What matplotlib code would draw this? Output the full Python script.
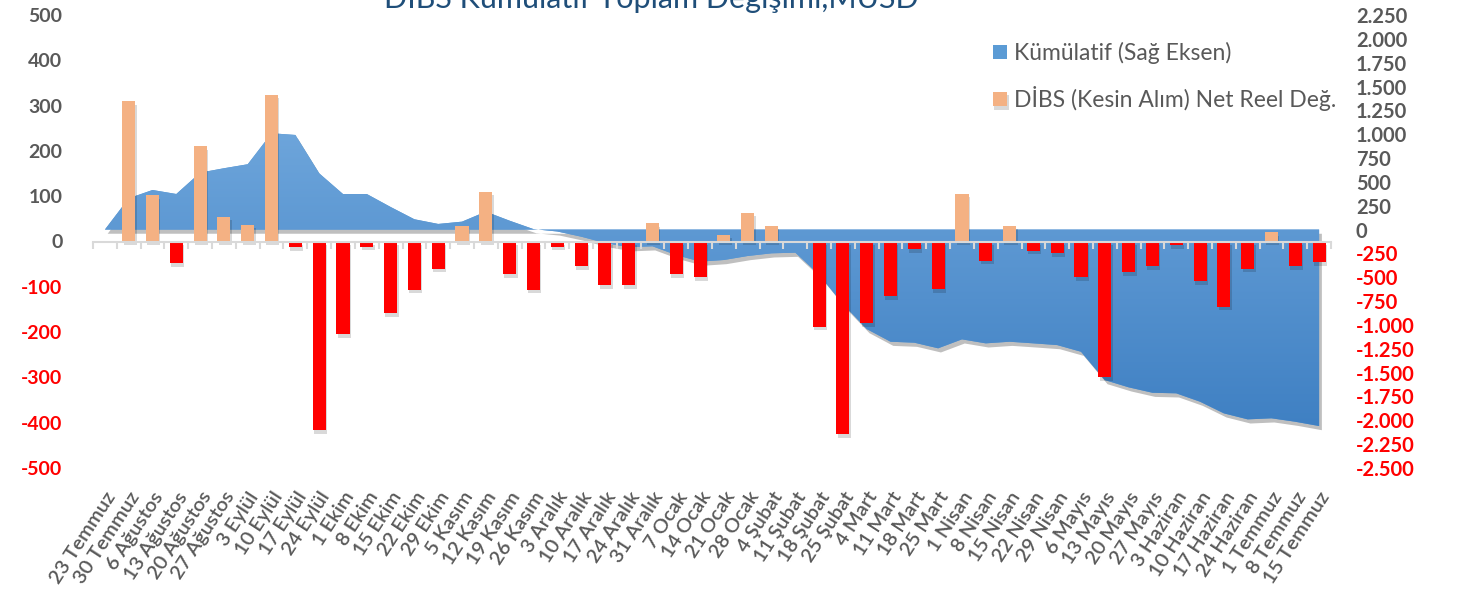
import matplotlib.pyplot as plt
import matplotlib.patheffects as pe
from matplotlib.colors import LinearSegmentedColormap
import numpy as np

plt.rcParams['font.family'] = ['Lato', 'DejaVu Sans']

weeks = ['23 Temmuz', '30 Temmuz', '6 Ağustos', '13 Ağustos', '20 Ağustos', '27 Ağustos',
         '3 Eylül', '10 Eylül', '17 Eylül', '24 Eylül', '1 Ekim', '8 Ekim', '15 Ekim',
         '22 Ekim', '29 Ekim', '5 Kasım', '12 Kasım', '19 Kasım', '26 Kasım', '3 Aralık',
         '10 Aralık', '17 Aralık', '24 Aralık', '31 Aralık', '7 Ocak', '14 Ocak', '21 Ocak',
         '28 Ocak', '4 Şubat', '11 Şubat', '18 Şubat', '25 Şubat', '4 Mart', '11 Mart',
         '18 Mart', '25 Mart', '1 Nisan', '8 Nisan', '15 Nisan', '22 Nisan', '29 Nisan',
         '6 Mayıs', '13 Mayıs', '20 Mayıs', '27 Mayıs', '3 Haziran', '10 Haziran',
         '17 Haziran', '24 Haziran', '1 Temmuz', '8 Temmuz', '15 Temmuz']

# DİBS (Kesin Alım) Net Reel Değ. (left axis, MUSD)
net_real = [0, 310, 102, -48, 210, 55, 37, 324, -13, -417, -205, -12, -158, -106, -60,
            34, 110, -72, -106, -12, -55, -97, -97, 40, -72, -79, 15, 63, 35, 0,
            -188, -426, -180, -121, -17, -105, 105, -42, 35, -21, -26, -79, -300, -68,
            -55, -8, -88, -144, -60, 20, -55, -46]

# Kümülatif (right axis, MUSD)
cumulative = [0, 328, 415, 373, 597, 643, 685, 1010, 992, 590, 373, 373, 237, 108, 59,
              83, 188, 93, 5, -20, -74, -140, -185, -175, -267, -336, -319, -277, -249, -242,
              -473, -781, -1043, -1176, -1186, -1245, -1151, -1193, -1176, -1193, -1211, -1281,
              -1578, -1654, -1711, -1717, -1805, -1927, -1990, -1979, -2015, -2060]

left_ticks = np.arange(-500, 501, 100)
right_ticks = np.arange(-2500, 2251, 250)

GREY = '#595959'
RED = '#FF0000'
ORANGE = '#F4B183'
BLUE = '#5B9BD5'

fig = plt.figure(figsize=(14.58, 5.93), dpi=100)
ax1 = fig.add_axes([93 / 1458, 1 - 468 / 593, (1331 - 93) / 1458, (468 - 15) / 593])
ax2 = ax1.twinx()
ax1.set_zorder(ax2.get_zorder() + 1)
ax1.patch.set_visible(False)

x = np.arange(len(weeks))
cum = np.array(cumulative)
vals = np.array(net_real)

# cumulative area with a vertical gradient
area = ax2.fill_between(x, cum, 0, color=BLUE, lw=0, label='Kümülatif (Sağ Eksen)')
area.set_path_effects([pe.SimplePatchShadow(offset=(2, -3), shadow_rgbFace='k', alpha=0.25),
                       pe.Normal()])
cmap = LinearSegmentedColormap.from_list('blues', ['#3F80C3', '#6DA5DB'])
grad = np.linspace(0, 1, 256).reshape(-1, 1)
im = ax2.imshow(grad, extent=[x[0], x[-1], cum.min(), cum.max()], origin='lower',
                aspect='auto', cmap=cmap, zorder=area.get_zorder() + 0.1)
im.set_clip_path(area.get_paths()[0], transform=ax2.transData)

# bars
pos = vals >= 0
shadow = [pe.SimplePatchShadow(offset=(1, -2.5), shadow_rgbFace='k', alpha=0.15), pe.Normal()]
bars_pos = ax1.bar(x[pos], vals[pos], width=0.55, color=ORANGE,
                   label='DİBS (Kesin Alım) Net Reel Değ.')
bars_neg = ax1.bar(x[~pos], vals[~pos], width=0.55, color=RED)
for b in list(bars_pos) + list(bars_neg):
    b.set_path_effects(shadow)

ax1.set_xlim(-0.5, len(weeks) - 0.5)
ax1.set_ylim(-500, 500)
ax2.set_ylim(-2500, 2250)

# category axis at zero
for s in ['top', 'left', 'right']:
    ax1.spines[s].set_visible(False)
    ax2.spines[s].set_visible(False)
ax2.spines['bottom'].set_visible(False)
ax1.spines['bottom'].set_position(('data', 0))
ax1.spines['bottom'].set_color('#D9D9D9')
ax1.spines['bottom'].set_linewidth(1.5)
ax1.set_xticks(x)
ax1.set_xticks(np.arange(len(weeks) + 1) - 0.5, minor=True)
ax1.tick_params(axis='x', which='major', length=0, labelbottom=False)
ax1.tick_params(axis='x', which='minor', length=5, width=1.5, color='#D9D9D9', direction='out')

sec = ax1.secondary_xaxis(0)
sec.set_xticks(x, weeks)
sec.spines['bottom'].set_visible(False)
sec.tick_params(length=0, pad=15)
for t in sec.get_xticklabels():
    t.set_rotation(57)
    t.set_ha('right')
    t.set_va('top')
    t.set_rotation_mode('anchor')
    t.set_fontsize(14.5)
    t.set_color(GREY)
    t.set_fontweight('semibold')

# y axes
ax1.set_yticks(left_ticks, [str(v) for v in left_ticks])
ax1.tick_params(axis='y', length=0, pad=22)
for t, v in zip(ax1.get_yticklabels(), left_ticks):
    t.set_color(RED if v < 0 else GREY)
    t.set_fontweight('bold')
    t.set_fontsize(14)

ax2.set_yticks(right_ticks, [f'{v:,}'.replace(',', '.') for v in right_ticks])
ax2.tick_params(axis='y', length=0, pad=18)
for t, v in zip(ax2.get_yticklabels(), right_ticks):
    t.set_color(RED if v < 0 else GREY)
    t.set_fontweight('bold')
    t.set_fontsize(14.5)

fig.text(651 / 1458, 1 - 8 / 593, 'DİBS Kümülatif Toplam Değişimi,MUSD', ha='center',
         va='baseline', fontsize=22, color='#1F4E79')

leg = ax1.legend(handles=[area, bars_pos], loc='upper left',
                 bbox_to_anchor=(993 / 1458, 1 - 42 / 593), bbox_transform=fig.transFigure,
                 frameon=False, fontsize=16.5, handlelength=0.62, handleheight=0.6,
                 handletextpad=0.3, labelspacing=0.95, borderpad=0, borderaxespad=0)
for t in leg.get_texts():
    t.set_color(GREY)

plt.savefig('out.png', dpi=100)
